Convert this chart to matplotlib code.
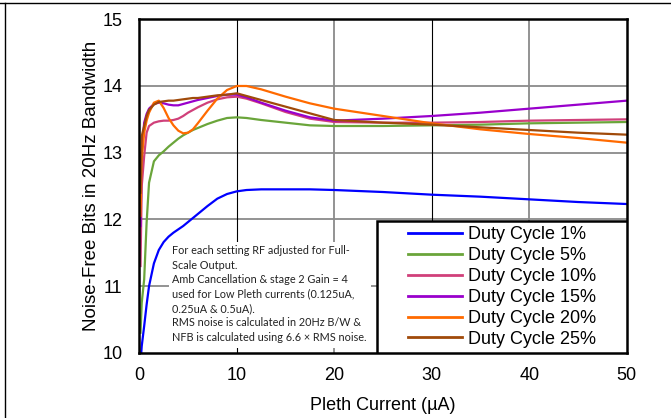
import matplotlib
matplotlib.use("Agg")
import matplotlib.pyplot as plt
from matplotlib.patches import Rectangle
from matplotlib.lines import Line2D

plt.rcParams['font.family'] = ['Liberation Sans', 'DejaVu Sans']

current = [0.125, 0.25, 0.5, 0.75, 1, 1.5, 2, 2.5, 3, 3.5, 4, 4.5, 5, 5.5, 6, 7, 8, 9,
           10, 11, 12.5, 15, 17.5, 20, 25, 30, 35, 40, 45, 50]

nfb_1 = [9.85, 10.1, 10.4, 10.72, 11.0, 11.34, 11.54, 11.66, 11.74, 11.8, 11.85, 11.9,
         11.96, 12.02, 12.08, 12.2, 12.31, 12.38, 12.42, 12.44, 12.45, 12.45, 12.45,
         12.44, 12.41, 12.37, 12.34, 12.30, 12.26, 12.23]
nfb_5 = [10.3, 10.75, 11.1, 11.95, 12.55, 12.87, 12.96, 13.02, 13.09, 13.15, 13.21, 13.26,
         13.30, 13.34, 13.37, 13.43, 13.48, 13.52, 13.53, 13.52, 13.49, 13.45, 13.41,
         13.40, 13.40, 13.41, 13.42, 13.44, 13.45, 13.46]
nfb_10 = [11.3, 12.5, 12.95, 13.3, 13.4, 13.45, 13.47, 13.48, 13.48, 13.49, 13.51, 13.55,
          13.6, 13.64, 13.68, 13.75, 13.80, 13.83, 13.84, 13.81, 13.74, 13.61, 13.51,
          13.46, 13.45, 13.45, 13.46, 13.48, 13.49, 13.50]
nfb_15 = [11.9, 13.0, 13.45, 13.58, 13.66, 13.73, 13.75, 13.74, 13.72, 13.71, 13.71, 13.73,
          13.75, 13.77, 13.79, 13.82, 13.85, 13.87, 13.87, 13.83, 13.75, 13.63, 13.53,
          13.48, 13.51, 13.55, 13.60, 13.66, 13.72, 13.78]
nfb_20 = [12.05, 12.9, 13.3, 13.48, 13.6, 13.75, 13.78, 13.67, 13.52, 13.41, 13.33, 13.29,
          13.30, 13.35, 13.44, 13.63, 13.81, 13.94, 14.0, 14.0, 13.95, 13.84, 13.74,
          13.66, 13.55, 13.44, 13.35, 13.28, 13.22, 13.15]
nfb_25 = [12.4, 13.25, 13.4, 13.55, 13.64, 13.72, 13.76, 13.77, 13.78, 13.78, 13.79, 13.80,
          13.81, 13.82, 13.82, 13.84, 13.86, 13.87, 13.89, 13.85, 13.79, 13.69, 13.59,
          13.49, 13.45, 13.42, 13.38, 13.34, 13.30, 13.27]

labels = ['Duty Cycle 1%', 'Duty Cycle 5%', 'Duty Cycle 10%',
          'Duty Cycle 15%', 'Duty Cycle 20%', 'Duty Cycle 25%']
series = [nfb_1, nfb_5, nfb_10, nfb_15, nfb_20, nfb_25]
colors = ['#0000FF', '#6AA53A', '#D0407A', '#9900CC', '#FF6A00', '#A04A0A']

x_ticks = [0, 10, 20, 30, 40, 50]
y_ticks = [10, 11, 12, 13, 14, 15]

note = ("For each setting RF adjusted for Full-\n"
        "Scale Output.\n"
        "Amb Cancellation & stage 2 Gain = 4\n"
        "used for Low Pleth currents (0.125uA,\n"
        "0.25uA & 0.5uA).\n"
        "RMS noise is calculated in 20Hz B/W &\n"
        "NFB is calculated using 6.6 \u00d7 RMS noise.")

fig = plt.figure(figsize=(6.71, 4.18), dpi=100)
ax = fig.add_axes([0.2076, 0.1562, 0.7264, 0.7976])

for ys, c, lab in zip(series, colors, labels):
    ax.plot(current, ys, color=c, lw=1.6, label=lab, zorder=3)

ax.set_xlim(0, 50)
ax.set_ylim(10, 15)
ax.set_xticks(x_ticks)
ax.set_yticks(y_ticks)
ax.tick_params(length=0, labelsize=13, colors='black')
ax.tick_params(axis='y', pad=12)
ax.tick_params(axis='x', pad=10)

# grid: horizontal gray, vertical alternating black / gray
for yv in y_ticks[1:-1]:
    ax.axhline(yv, color='#8a8a8a', lw=1.3, zorder=1)
for i, xv in enumerate(x_ticks[1:-1]):
    if i % 2 == 0:
        ax.axvline(xv, color='black', lw=0.8, zorder=1)
    else:
        ax.axvline(xv, color='#8a8a8a', lw=1.3, zorder=1)

for s in ax.spines.values():
    s.set_linewidth(1.8)
    s.set_color('black')
    s.set_zorder(5)

ax.set_xlabel('Pleth Current (\u00b5A)', fontsize=13, labelpad=10)
ax.set_ylabel('Noise-Free Bits in 20Hz Bandwidth', fontsize=13.5, labelpad=2)

# note box
ax.add_patch(Rectangle((0.061, 0.014), 0.414, 0.318, transform=ax.transAxes,
                       facecolor='white', edgecolor='none', zorder=4))
ax.text(0.068, 0.322, note, transform=ax.transAxes, fontsize=7.8, family=['Lato', 'DejaVu Sans'],
        color='#222222', va='top', ha='left', linespacing=1.38, zorder=6)

# legend box
ax.add_patch(Rectangle((0.488, 0.0), 0.512, 0.395, transform=ax.transAxes,
                       facecolor='white', edgecolor='black', lw=1.8, zorder=6))
leg = ax.legend(loc='center', bbox_to_anchor=(0.744, 0.1975), frameon=False, fontsize=13,
                handlelength=3.0, handletextpad=0.35, labelspacing=0.22, borderpad=0.1)
leg.set_zorder(7)
for h in leg.legend_handles:
    h.set_linewidth(2)

# outer border of the figure
fig.add_artist(Line2D([0, 1], [0.9928, 0.9928], color='black', lw=1))
fig.add_artist(Line2D([0.0075, 0.0075], [0, 0.9928], color='black', lw=1))

fig.savefig('out.png', dpi=100)
